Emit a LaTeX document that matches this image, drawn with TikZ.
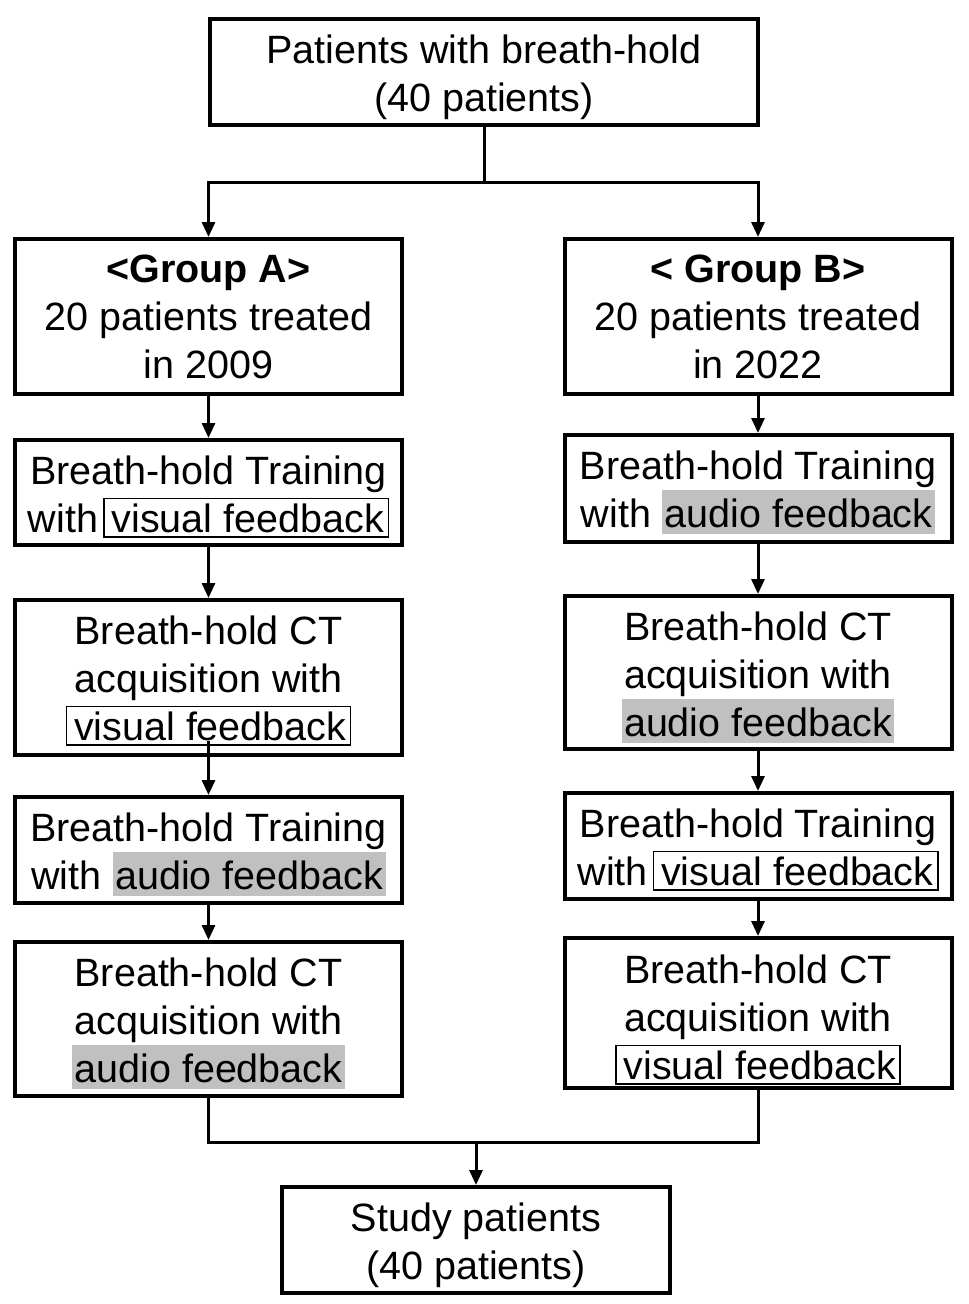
\documentclass[tikz,border=0pt]{standalone}
\usepackage{fontspec}
\setmainfont{Liberation Sans}
\usetikzlibrary{arrows.meta,positioning}
\definecolor{hl}{RGB}{192,192,192}
\newcommand\boxfont{\fontsize{39.5}{48}\selectfont}
\newcommand\vfb[1]{{\setlength\fboxsep{0pt}\setlength\fboxrule{1.5pt}\fbox{\rule[-4pt]{0pt}{37pt}\hspace{7pt}#1\hspace{3.5pt}}}}
\newcommand\afb[1]{{\setlength\fboxsep{0pt}\colorbox{hl}{\rule[-7pt]{0pt}{44pt}\hspace{2.5pt}#1\hspace{2.5pt}}}}
\newcommand\fl[1]{\rule{0pt}{#1pt}}
\tikzset{
  stepbox/.style={draw, line width=4pt, inner sep=0pt, align=center, font=\boxfont, minimum width=387pt},
  link/.style={line width=3pt},
  arr/.style={line width=3pt, -{Triangle[length=15pt,width=13pt]}},
}
\begin{document}
\begin{tikzpicture}[x=1pt,y=-1pt]
\useasboundingbox (0,0) rectangle (969,1304);
\node[stepbox, minimum width=548pt, minimum height=106pt] (top) at (484,72) {\fl{38.3}Patients with breath-hold\\(40 patients)};
\node[stepbox, minimum height=155pt] (A0) at (208.5,316.5) {\textbf{<Group A>}\\20 patients treated\\in 2009};
\node[stepbox, minimum height=155pt] (B0) at (758,316.5) {\textbf{< Group B>}\\20 patients treated\\in 2022};
\node[stepbox, minimum height=105pt] (A1) at (208.5,492.5) {\fl{36.5}Breath-hold Training\\with\hspace{5pt}\vfb{visual feedback}};
\node[stepbox, minimum height=155pt] (A2) at (208.5,677.5) {\fl{34.5}Breath-hold CT\\acquisition with\\\vfb{visual feedback}};
\node[stepbox, minimum height=106pt] (A3) at (208.5,850) {\fl{37}Breath-hold Training\\with \afb{audio feedback}};
\node[stepbox, minimum height=154pt] (A4) at (208.5,1019) {\fl{37}Breath-hold CT\\acquisition with\\\afb{audio feedback}};
\node[stepbox, minimum height=107pt] (B1) at (758,488.5) {\fl{36}Breath-hold Training\\with \afb{audio feedback}};
\node[stepbox, minimum height=153pt] (B2) at (758,672.5) {\fl{38}Breath-hold CT\\acquisition with\\\afb{audio feedback}};
\node[stepbox, minimum height=106pt] (B3) at (758,846) {\fl{35.5}Breath-hold Training\\with\hspace{5pt}\vfb{visual feedback}};
\node[stepbox, minimum height=150pt] (B4) at (758,1013) {\fl{41.5}Breath-hold CT\\acquisition with\\\vfb{visual feedback}};
\node[stepbox, minimum width=388pt, minimum height=106pt] (fin) at (476,1240) {\fl{38.3}Study patients\\(40 patients)};
\coordinate (split) at (484,182);
\coordinate (merge) at (476,1142);
\coordinate (a2out) at (208.5,741);
\draw[link] (top.south) -- (split);
\draw[arr] (split) -| (A0.north);
\draw[arr] (split) -| (B0.north);
\draw[arr] (A0.south) -- (A1.north);
\draw[arr] (A1.south) -- (A2.north);
\draw[arr] (a2out) -- (A3.north);
\draw[arr] (A3.south) -- (A4.north);
\draw[arr] (B0.south) -- (B1.north);
\draw[arr] (B1.south) -- (B2.north);
\draw[arr] (B2.south) -- (B3.north);
\draw[arr] (B3.south) -- (B4.north);
\draw[link] (A4.south) |- (merge);
\draw[link] (B4.south) |- (merge);
\draw[arr] (merge) -- (fin.north);
\end{tikzpicture}
\end{document}
